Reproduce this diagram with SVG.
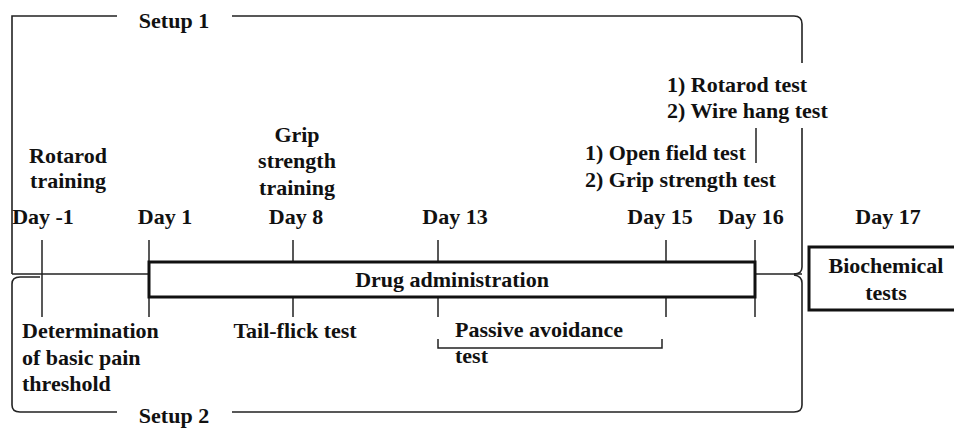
<svg xmlns="http://www.w3.org/2000/svg" width="954" height="430" viewBox="0 0 954 430">
<style>
text{font-family:"Liberation Serif","Times New Roman",serif;font-weight:bold;font-size:22px;fill:#111}
.m{text-anchor:middle}
.ln{fill:none;stroke:#222;stroke-width:1.6}
.tk{fill:none;stroke:#222;stroke-width:1.5}
.bx{fill:#fff;stroke:#111;stroke-width:3}
</style>
<rect width="954" height="430" fill="#fff"/>
<g id="connectors">
<path class="ln" d="M117 16 H12 V274"/>
<path class="ln" d="M232 16 H794 Q802 16 802 24 V63"/>
<path class="ln" d="M802 128 V267 Q802 274 794 274"/>
<path class="ln" d="M12 274 H149"/>
<path class="ln" d="M755 274 H802"/>
<path class="ln" d="M794 275 Q802 276 802 283 V405 Q802 412 794 412 H232"/>
<path class="ln" d="M117 412 H20 Q12 412 12 405 V284 Q12 277 20 277 H40"/>
<path class="tk" d="M42 240 V317"/>
<path class="tk" d="M149 240 V317"/>
<path class="tk" d="M293 240 V262 M293 297 V317"/>
<path class="tk" d="M438 240 V262 M438 297 V317"/>
<path class="tk" d="M666 240 V262 M666 297 V317"/>
<path class="tk" d="M755 240 V317"/>
<path class="tk" d="M756 128 V163"/>
<path class="tk" d="M438 339 V348 H662 V339"/>
</g>
<g id="setup1"><text class="m" x="174" y="28">Setup 1</text></g>
<g id="setup2"><text class="m" x="174" y="423">Setup 2</text></g>
<g id="rotarod-training"><text class="m" x="68" y="163">Rotarod</text><text class="m" x="68" y="188">training</text></g>
<g id="grip-training"><text class="m" x="297" y="142">Grip</text><text class="m" x="297" y="168">strength</text><text class="m" x="297" y="195">training</text></g>
<g id="days">
<text class="m" x="43" y="224">Day -1</text>
<text class="m" x="165" y="224">Day 1</text>
<text class="m" x="296" y="224">Day 8</text>
<text class="m" x="455" y="224">Day 13</text>
<text class="m" x="660" y="224">Day 15</text>
<text class="m" x="751" y="224">Day 16</text>
<text class="m" x="888" y="224">Day 17</text>
</g>
<g id="day16-tests"><text x="667" y="92">1) Rotarod test</text><text x="667" y="118">2) Wire hang test</text></g>
<g id="day15-tests"><text x="585" y="160">1) Open field test</text><text x="585" y="187">2) Grip strength test</text></g>
<g id="drug-administration"><rect class="bx" x="149" y="262" width="606" height="35"/><text class="m" x="452" y="287">Drug administration</text></g>
<g id="biochemical"><rect class="bx" x="809" y="247" width="160" height="63"/><text class="m" x="886" y="273">Biochemical</text><text class="m" x="886" y="300">tests</text></g>
<g id="pain-threshold"><text x="22" y="338">Determination</text><text x="22" y="365">of basic pain</text><text x="22" y="391">threshold</text></g>
<g id="tail-flick"><text class="m" x="295" y="338">Tail-flick test</text></g>
<g id="passive-avoidance"><text x="455" y="337">Passive avoidance</text><text x="455" y="363">test</text></g>
</svg>
